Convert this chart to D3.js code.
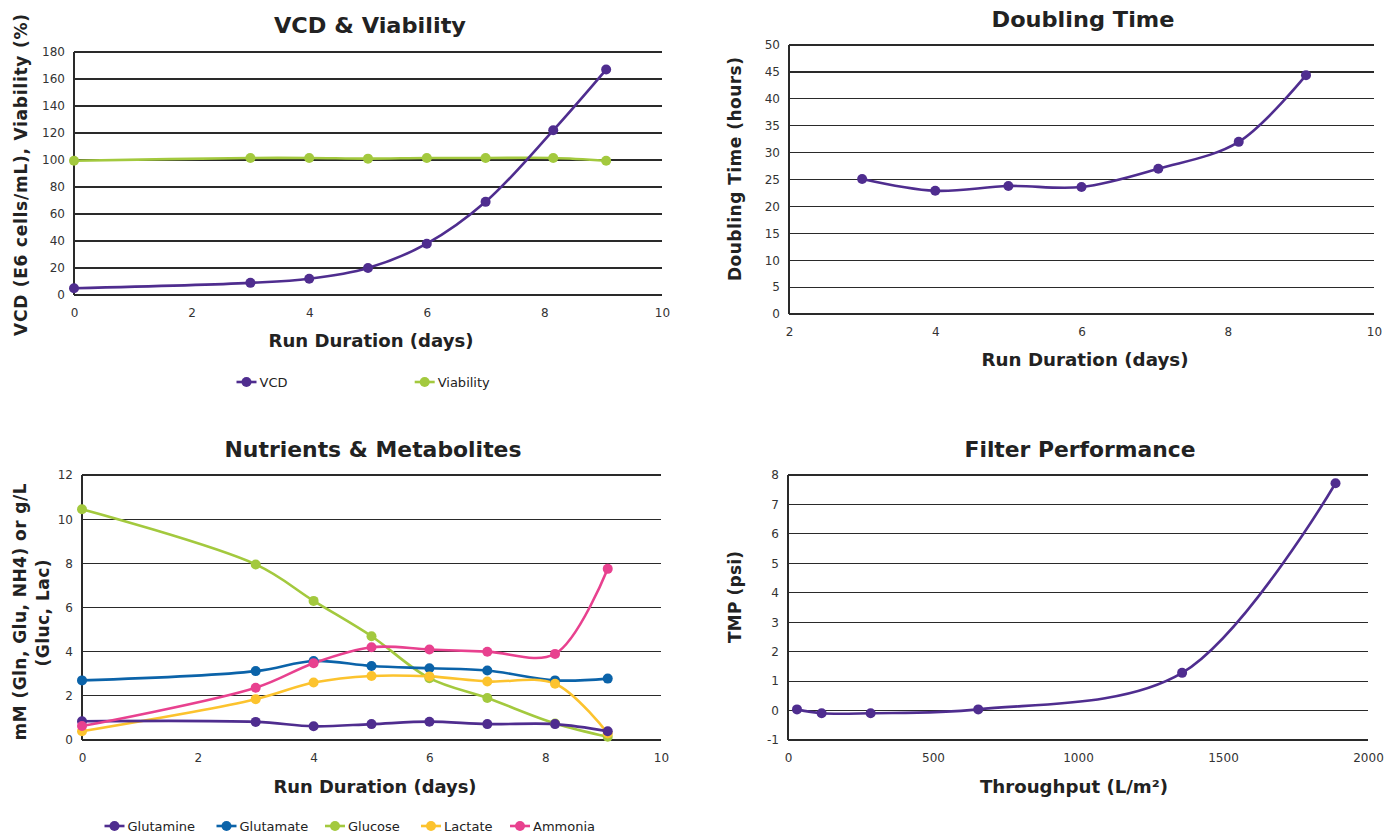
<!DOCTYPE html>
<html><head><meta charset="utf-8">
<script src="https://cdn.jsdelivr.net/npm/d3@7"></script>
<style>
html,body{margin:0;padding:0;background:#fff;}
svg{display:block;}
</style></head>
<body>
<svg id="c" width="1387" height="834"></svg>
<script>
// ---------- DATA ----------
const vcdDays = [0, 3, 4, 5, 6, 7, 8.15, 9.05];
const vcdValues = [5, 9, 12, 20, 38, 69, 122, 167];
const viabilityValues = [99.5, 101.5, 101.5, 101, 101.5, 101.5, 101.5, 99.5];

const dtDays = [3, 4, 5, 6, 7.05, 8.15, 9.07];
const doublingTime = [25.1, 22.9, 23.8, 23.6, 27, 32, 44.4];

const nmDays = [0, 3, 4, 5, 6, 7, 8.17, 9.08];
const glutamine = [0.85, 0.82, 0.62, 0.72, 0.83, 0.72, 0.72, 0.4];
const glutamate = [2.7, 3.12, 3.58, 3.35, 3.25, 3.15, 2.7, 2.78];
const glucose = [10.45, 7.95, 6.3, 4.7, 2.8, 1.9, 0.75, 0.15];
const lactate = [0.4, 1.85, 2.6, 2.9, 2.88, 2.65, 2.55, 0.3];
const ammonia = [0.63, 2.37, 3.48, 4.2, 4.1, 4.0, 3.9, 7.75];

const throughput = [31, 116, 285, 656, 1359, 1888];
const tmp = [0.04, -0.09, -0.09, 0.04, 1.28, 7.72];

const p1Ticks = [0, 20, 40, 60, 80, 100, 120, 140, 160, 180];
const p2Ticks = [0, 5, 10, 15, 20, 25, 30, 35, 40, 45, 50];
const p3Ticks = [0, 2, 4, 6, 8, 10, 12];
const p4Ticks = [-1, 0, 1, 2, 3, 4, 5, 6, 7, 8];
const dayTicks = [0, 2, 4, 6, 8, 10];
const dtDayTicks = [2, 4, 6, 8, 10];
const tpTicks = [0, 500, 1000, 1500, 2000];

const C = {purple:"#4f2d8f", green:"#a3c93e", blue:"#0b63a9", yellow:"#fcc32e", pink:"#e8418f"};

const svg = d3.select("#c");
const FONT = "'DejaVu Sans',Verdana,sans-serif";
const fmt = d => String(d);

function panel(o){
  const x = d3.scaleLinear().domain(o.xd).range([o.l, o.r]);
  const y = d3.scaleLinear().domain(o.yd).range([o.b, o.t]);
  const g = svg.append("g");
  // gridlines
  g.append("g").selectAll("line").data(o.yt).join("line")
    .attr("x1", o.l).attr("x2", o.r)
    .attr("y1", d=>y(d)).attr("y2", d=>y(d))
    .attr("stroke", "#2a2a2a").attr("stroke-width", 1.2).attr("shape-rendering","crispEdges");
  // y axis line
  g.append("line").attr("x1", o.l).attr("x2", o.l).attr("y1", o.t).attr("y2", o.b)
    .attr("stroke", "#2a2a2a").attr("stroke-width", 1.2).attr("shape-rendering","crispEdges");
  // y tick labels
  const ya = d3.axisLeft(y).tickValues(o.yt).tickFormat(fmt).tickSize(0).tickPadding(9);
  const yg = g.append("g").attr("transform", `translate(${o.l},0)`).call(ya);
  yg.select(".domain").remove();
  yg.selectAll("text").attr("font-family", FONT).attr("font-size", 12).attr("fill", "#333");
  // x tick labels
  const xa = d3.axisBottom(x).tickValues(o.xt).tickFormat(fmt).tickSize(0).tickPadding(13);
  const xg = g.append("g").attr("transform", `translate(0,${o.b})`).call(xa);
  xg.select(".domain").remove();
  xg.selectAll("text").attr("font-family", FONT).attr("font-size", 12).attr("fill", "#333");
  // series
  o.series.forEach(s=>{
    const pts = o.xs.map((d,i)=>[d, s.v[i]]);
    const line = d3.line().x(d=>x(d[0])).y(d=>y(d[1])).curve(d3.curveCatmullRom.alpha(0.5));
    g.append("path").attr("d", line(pts)).attr("fill","none")
      .attr("stroke", s.c).attr("stroke-width", 2.6).attr("stroke-linecap","round");
  });
  o.series.forEach(s=>{
    g.append("g").selectAll("circle").data(o.xs.map((d,i)=>[d, s.v[i]])).join("circle")
      .attr("cx", d=>x(d[0])).attr("cy", d=>y(d[1])).attr("r", 5).attr("fill", s.c);
  });
  // title
  g.append("text").attr("x", o.tx).attr("y", o.ty).attr("text-anchor","middle")
    .attr("dominant-baseline","central").attr("font-family", FONT).attr("font-weight","bold")
    .attr("font-size", 22).attr("fill", "#222")
    .attr("textLength", o.tw).attr("lengthAdjust","spacingAndGlyphs").text(o.title);
  // x title
  g.append("text").attr("x", o.xtx).attr("y", o.xty).attr("text-anchor","middle")
    .attr("dominant-baseline","central").attr("font-family", FONT).attr("font-weight","bold")
    .attr("font-size", 17).attr("fill", "#222")
    .attr("textLength", o.xtw).attr("lengthAdjust","spacingAndGlyphs").text(o.xtitle);
  // y title(s)
  o.ytitles.forEach(t=>{
    g.append("text").attr("transform", `translate(${t.x},${t.y}) rotate(-90)`)
      .attr("text-anchor","middle").attr("dominant-baseline","central")
      .attr("font-family", FONT).attr("font-weight","bold").attr("font-size", 17)
      .attr("textLength", t.w).attr("lengthAdjust","spacing")
      .attr("fill", "#222").text(t.s);
  });
  // legend
  if (o.legend){
    o.legend.items.forEach((it,i)=>{
      const cx = o.legend.xs[i], cy = o.legend.y;
      const lg = g.append("g");
      lg.append("line").attr("x1", cx-10).attr("x2", cx+10).attr("y1", cy).attr("y2", cy)
        .attr("stroke", it.c).attr("stroke-width", 2.6);
      lg.append("circle").attr("cx", cx).attr("cy", cy).attr("r", 5).attr("fill", it.c);
      lg.append("text").attr("x", cx+13).attr("y", cy).attr("dominant-baseline","central")
        .attr("font-family", FONT).attr("font-size", 13).attr("fill", "#222").text(it.s);
    });
  }
}

panel({
  l:74, r:662, t:52, b:295, xd:[0,10], yd:[0,180], xt:dayTicks, yt:p1Ticks,
  xs:vcdDays,
  series:[{v:viabilityValues, c:C.green},{v:vcdValues, c:C.purple}],
  title:"VCD & Viability", tx:370, ty:25, tw:192,
  xtitle:"Run Duration (days)", xtx:371, xty:341, xtw:205,
  ytitles:[{x:21, y:175, w:322, s:"VCD (E6 cells/mL), Viability (%)"}],
  legend:{y:382, xs:[246.5, 424.7], items:[{s:"VCD", c:C.purple},{s:"Viability", c:C.green}]}
});

panel({
  l:789, r:1374, t:45, b:314, xd:[2,10], yd:[0,50], xt:dtDayTicks, yt:p2Ticks,
  xs:dtDays,
  series:[{v:doublingTime, c:C.purple}],
  title:"Doubling Time", tx:1083, ty:19, tw:183,
  xtitle:"Run Duration (days)", xtx:1085, xty:360, xtw:207,
  ytitles:[{x:735, y:169, w:224, s:"Doubling Time (hours)"}]
});

panel({
  l:82, r:661, t:475, b:740, xd:[0,10], yd:[0,12], xt:dayTicks, yt:p3Ticks,
  xs:nmDays,
  series:[{v:glucose, c:C.green},{v:glutamate, c:C.blue},{v:lactate, c:C.yellow},{v:glutamine, c:C.purple},{v:ammonia, c:C.pink}],
  title:"Nutrients & Metabolites", tx:373, ty:449, tw:297,
  xtitle:"Run Duration (days)", xtx:375, xty:787, xtw:203,
  ytitles:[{x:20, y:612, w:257, s:"mM (Gln, Glu, NH4) or g/L"},{x:43, y:613, w:107, s:"(Gluc, Lac)"}],
  legend:{y:826, xs:[114.5, 226.5, 335, 431, 520],
    items:[{s:"Glutamine", c:C.purple},{s:"Glutamate", c:C.blue},{s:"Glucose", c:C.green},{s:"Lactate", c:C.yellow},{s:"Ammonia", c:C.pink}]}
});

panel({
  l:788, r:1368, t:475, b:740, xd:[0,2000], yd:[-1,8], xt:tpTicks, yt:p4Ticks,
  xs:throughput,
  series:[{v:tmp, c:C.purple}],
  title:"Filter Performance", tx:1080, ty:449, tw:231,
  xtitle:"Throughput (L/m²)", xtx:1074, xty:787, xtw:188,
  ytitles:[{x:735, y:597, w:92, s:"TMP (psi)"}]
});
</script>
</body></html>
